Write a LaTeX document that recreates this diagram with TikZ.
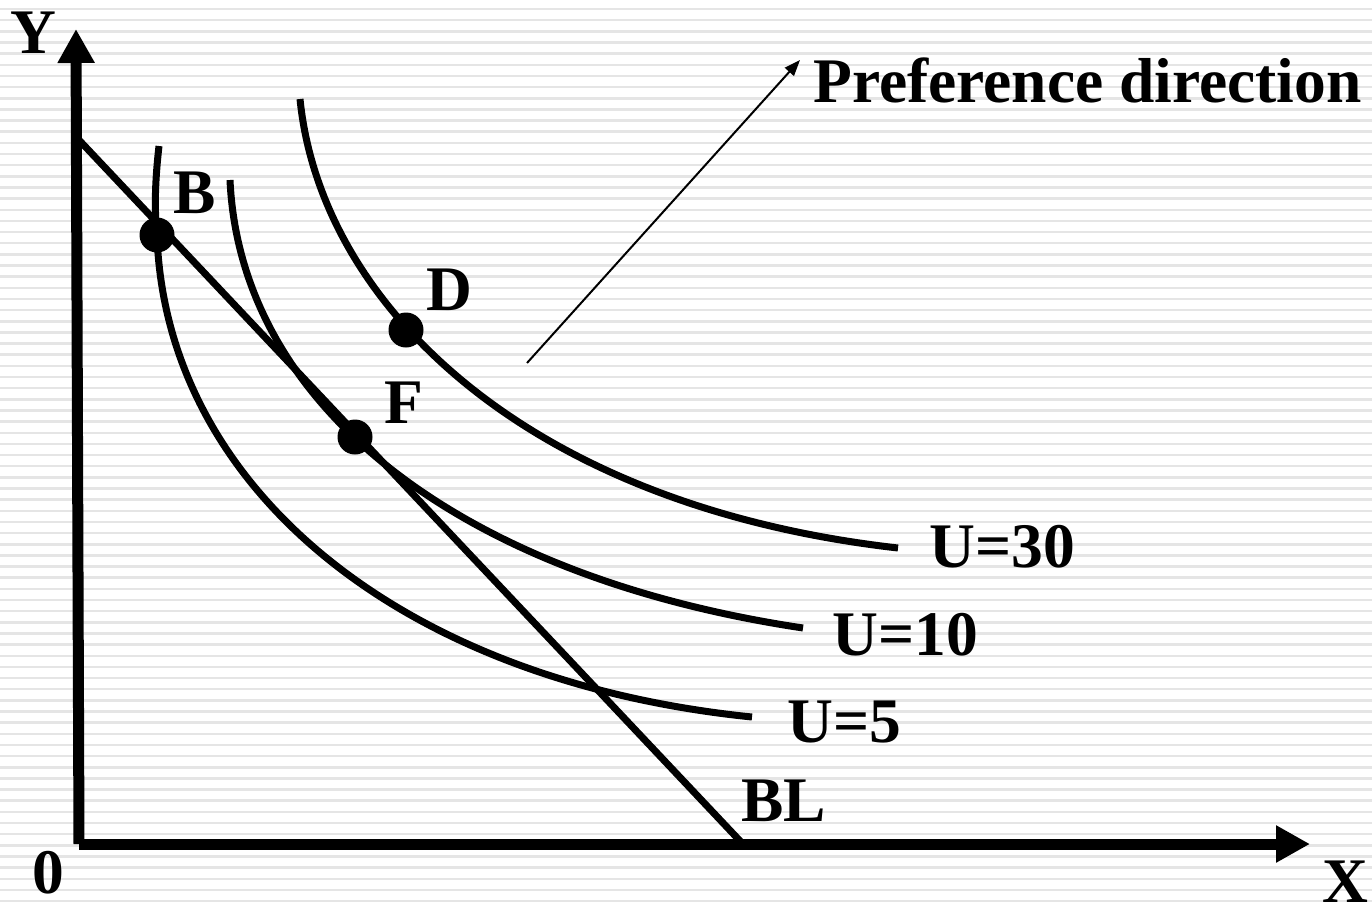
\documentclass[tikz,border=0pt]{standalone}
\usepackage{fontspec}
\setmainfont{Liberation Serif}
\usetikzlibrary{arrows.meta}
\begin{document}
\begin{tikzpicture}[x=1pt,y=-1pt,
  stripe/.style={fill=black!10},
  axis/.style={line width=11pt,-{Triangle[length=34pt,width=35pt]}},
  curve/.style={line width=7pt},
  dot/.style={circle,fill=black,inner sep=0pt,minimum size=35pt},
  lbl/.style={inner sep=0pt,anchor=base west,font=\fontsize{63.5}{63.5}\selectfont\bfseries},
  pref/.style={line width=2pt,-{Triangle[length=16pt,width=12pt]}}]
\useasboundingbox (0,0) rectangle (1372,902);
\fill[white] (0,0) rectangle (1372,902);
\foreach \i in {0,...,80} {
  \fill[stripe] (0,{7.8+\i*11.15}) rectangle (1372,{10.3+\i*11.15});
}
% axes
\coordinate (Ytip) at (76,29);
\coordinate (Xtip) at (1310,844);
\coordinate (Ybot) at (79,844);
\coordinate (Xbeg) at (79,844);
\draw[axis] (Ybot) -- (Ytip);
\draw[axis] (Xbeg) -- (Xtip);
% budget line
\coordinate (BLtop) at (79,140);
\coordinate (BLbot) at (741,842);
\draw[curve] (BLtop) -- (BLbot);
% indifference curves
\coordinate (U5a) at (159,146);
\coordinate (U5b) at (752,717);
\coordinate (U10a) at (230,180);
\coordinate (U10b) at (803,628);
\coordinate (U30a) at (300,99);
\coordinate (U30b) at (898,548);
\draw[curve] (U5a) .. controls (154,190) and (155,215) .. (157,235)
  .. controls (165,480) and (390,680) .. (U5b);
\draw[curve] (U10a) .. controls (240,400) and (450,575) .. (U10b);
\draw[curve] (U30a) .. controls (320,300) and (520,505) .. (U30b);
% points
\node[dot] (B) at (157,235) {};
\node[dot] (D) at (406,330) {};
\node[dot] (F) at (355,437) {};
% preference direction
\coordinate (Pstart) at (527,363);
\coordinate (Pend) at (800,60);
\draw[pref] (Pstart) -- (Pend);
% labels
\node[lbl] (lPref) at (813,102) {Preference direction};
\node[lbl] (lB) at (173,213) {B};
\node[lbl] (lD) at (426,310) {D};
\node[lbl] (lF) at (384,423) {F};
\node[lbl] (lU30) at (929,567) {U=30};
\node[lbl] (lU10) at (832,655) {U=10};
\node[lbl] (lU5) at (787,742) {U=5};
\node[lbl] (lBL) at (741,821) {BL};
\node[lbl] (l0) at (32,893) {0};
\node[lbl] (lX) at (1322,902) {X};
\node[lbl] (lY) at (10,53) {Y};
\end{tikzpicture}
\end{document}
